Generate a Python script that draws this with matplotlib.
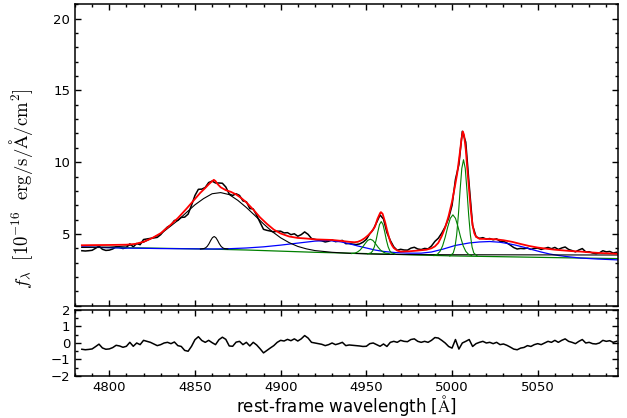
"""
Spectral decomposition of the Hbeta / [OIII] region with fit residuals.
"""
import matplotlib
matplotlib.use("Agg")
import matplotlib.pyplot as plt
import matplotlib.ticker as mticker
import numpy as np

plt.rcParams["mathtext.fontset"] = "cm"

# observed spectrum (2 A pixels) and residual of the fit
wave = np.arange(4784, 5097, 2)
flux = [
    3.83, 3.81, 3.83, 3.86, 4.00, 4.15, 3.93, 3.85, 3.87, 3.95,
    4.10, 4.06, 3.98, 4.05, 4.31, 4.10, 4.33, 4.25, 4.61, 4.65,
    4.69, 4.72, 4.76, 4.95, 5.25, 5.49, 5.61, 5.94, 5.94, 6.15,
    6.17, 6.38, 7.00, 7.68, 8.11, 8.12, 8.24, 8.58, 8.68, 8.55,
    8.55, 8.53, 8.27, 7.78, 7.68, 7.80, 7.68, 7.30, 7.24, 6.77,
    6.74, 6.30, 5.80, 5.32, 5.25, 5.20, 5.14, 5.19, 5.19, 5.07,
    5.09, 4.95, 5.01, 4.84, 4.95, 5.14, 4.97, 4.68, 4.62, 4.57,
    4.52, 4.44, 4.49, 4.58, 4.46, 4.50, 4.55, 4.32, 4.33, 4.29,
    4.26, 4.30, 4.42, 4.62, 5.01, 5.30, 5.80, 6.32, 6.04, 5.09,
    4.54, 4.10, 3.86, 3.93, 3.88, 3.87, 4.01, 4.07, 3.95, 3.91,
    3.99, 3.96, 4.16, 4.48, 4.70, 5.06, 5.50, 6.09, 6.99, 8.81,
    9.83, 12.15, 11.40, 8.41, 5.59, 4.81, 4.69, 4.74, 4.64, 4.68,
    4.59, 4.66, 4.48, 4.49, 4.37, 4.22, 4.05, 3.95, 3.99, 3.97,
    4.02, 3.92, 3.99, 4.01, 3.92, 3.99, 4.06, 3.97, 4.06, 3.92,
    4.02, 4.09, 3.92, 3.84, 3.75, 3.88, 3.98, 3.75, 3.76, 3.67,
    3.63, 3.68, 3.83, 3.75, 3.78, 3.67, 3.72,
]
resid = [
    -0.38, -0.41, -0.39, -0.36, -0.22, -0.07, -0.30, -0.38, -0.36, -0.28,
    -0.14, -0.18, -0.26, -0.20, 0.04, -0.20, 0.00, -0.10, 0.16, 0.10,
    0.04, -0.06, -0.16, -0.10, 0.00, 0.04, -0.04, 0.06, -0.16, -0.21,
    -0.45, -0.50, -0.20, 0.20, 0.38, 0.15, 0.04, 0.16, 0.02, -0.10,
    0.20, 0.35, 0.22, -0.18, -0.20, 0.05, 0.10, -0.10, 0.04, -0.18,
    0.04, -0.12, -0.35, -0.60, -0.45, -0.30, -0.16, 0.04, 0.16, 0.12,
    0.22, 0.14, 0.25, 0.12, 0.25, 0.45, 0.30, 0.04, 0.00, -0.04,
    -0.08, -0.16, -0.10, 0.00, -0.10, -0.04, 0.04, -0.16, -0.12, -0.14,
    -0.16, -0.18, -0.21, -0.20, -0.04, 0.00, -0.10, -0.20, -0.06, -0.21,
    0.04, 0.10, 0.04, 0.16, 0.10, 0.08, 0.21, 0.25, 0.10, 0.04,
    0.10, 0.04, 0.16, 0.33, 0.30, 0.16, 0.00, -0.21, -0.31, 0.21,
    -0.37, 0.00, 0.10, 0.21, -0.21, -0.04, 0.04, 0.10, 0.00, 0.04,
    -0.04, 0.04, -0.10, -0.06, -0.14, -0.25, -0.37, -0.41, -0.31, -0.27,
    -0.16, -0.21, -0.10, -0.04, -0.10, 0.00, 0.10, 0.04, 0.16, 0.04,
    0.16, 0.25, 0.10, 0.04, -0.04, 0.10, 0.21, 0.00, 0.04, -0.04,
    -0.06, 0.00, 0.16, 0.10, 0.14, 0.04, 0.10,
]

# total model
model_wave = [
    4784, 4790, 4800, 4810, 4815, 4820, 4825, 4830, 4835, 4840, 4845, 4849,
    4853, 4856, 4858, 4859.5, 4861, 4862, 4863, 4865, 4868, 4871, 4874, 4877,
    4880, 4884, 4888, 4892, 4896, 4900, 4905, 4910, 4915, 4920, 4925, 4930,
    4935, 4940, 4943, 4945, 4947, 4949, 4951, 4953, 4955, 4956.5, 4958,
    4958.5, 4959.5, 4961, 4962, 4963, 4964, 4965, 4966, 4968, 4970, 4975,
    4980, 4985, 4988, 4990, 4992, 4994, 4996, 4998, 5000, 5001.5, 5003,
    5004.5, 5005.5, 5006.3, 5007, 5008, 5009, 5010, 5011, 5012, 5013, 5014,
    5016, 5020, 5025, 5030, 5035, 5040, 5045, 5050, 5055, 5060, 5065, 5070,
    5075, 5080, 5085, 5090, 5097,
]
model_flux = [
    4.21, 4.22, 4.23, 4.25, 4.30, 4.45, 4.71, 5.05, 5.55, 6.10, 6.75, 7.30,
    7.85, 8.20, 8.45, 8.62, 8.77, 8.68, 8.50, 8.25, 8.05, 7.93, 7.75, 7.50,
    7.20, 6.70, 6.15, 5.70, 5.30, 5.03, 4.82, 4.72, 4.68, 4.62, 4.60, 4.58,
    4.52, 4.45, 4.42, 4.45, 4.55, 4.70, 4.90, 5.15, 5.50, 6.05, 6.45,
    6.52, 6.40, 5.80, 5.30, 4.85, 4.45, 4.20, 4.02, 3.84, 3.77, 3.79,
    3.84, 3.90, 4.00, 4.13, 4.38, 4.85, 5.45, 6.25, 7.25, 8.20, 9.20,
    10.60, 11.60, 12.14, 11.90, 10.90, 9.40, 8.00, 6.60, 5.60, 5.05, 4.80,
    4.66, 4.65, 4.63, 4.56, 4.45, 4.30, 4.16, 4.05, 3.97, 3.90, 3.85, 3.80,
    3.77, 3.72, 3.68, 3.65, 3.61,
]

# continuum (green) and continuum + Fe II (blue)
cont_wave = [4784, 4800, 4820, 4840, 4860, 4880, 4900, 4920, 4940, 4960,
             4980, 5000, 5020, 5040, 5060, 5080, 5097]
cont_flux = [4.07, 4.05, 4.02, 3.98, 3.94, 3.88, 3.80, 3.72, 3.66, 3.60,
             3.53, 3.47, 3.43, 3.39, 3.35, 3.31, 3.28]
feii_wave = [4784, 4790, 4800, 4810, 4820, 4830, 4840, 4850, 4860, 4870,
             4880, 4890, 4900, 4910, 4920, 4928, 4935, 4940, 4945, 4950,
             4955, 4960, 4967, 4975, 4982, 4988, 4995, 5002, 5010, 5016,
             5022, 5028, 5033, 5037, 5042, 5047, 5052, 5057, 5062, 5067,
             5075, 5085, 5097]
feii_flux = [4.10, 4.08, 4.04, 4.01, 4.00, 3.98, 3.97, 3.96, 3.95, 3.97,
             4.02, 4.10, 4.22, 4.36, 4.50, 4.54, 4.45, 4.32, 4.16, 4.02,
             3.88, 3.78, 3.70, 3.66, 3.66, 3.74, 3.95, 4.20, 4.37, 4.44,
             4.47, 4.42, 4.32, 4.22, 4.07, 3.90, 3.74, 3.60, 3.50, 3.42,
             3.32, 3.25, 3.19]

# broad and narrow Hbeta (black)
hb_broad_wave = [4784, 4800, 4810, 4820, 4830, 4840, 4845, 4850, 4855, 4860,
                 4865, 4870, 4875, 4880, 4885, 4890, 4895, 4900, 4905, 4910,
                 4915, 4920, 4930, 4940, 4950, 4960, 4980, 5000, 5050, 5097]
hb_broad_flux = [4.06, 4.08, 4.16, 4.42, 5.00, 5.94, 6.49, 7.03, 7.46, 7.80,
                 7.88, 7.74, 7.34, 6.84, 6.28, 5.70, 5.17, 4.73, 4.39, 4.13,
                 3.96, 3.84, 3.72, 3.65, 3.61, 3.58, 3.56, 3.55, 3.54, 3.53]
hb_nar_wave = [4853.2, 4855.2, 4856.2, 4857.2, 4858.2, 4859.2, 4860.2, 4861.2,
               4862.2, 4863.2, 4864.2, 4865.2, 4866.2, 4867.2, 4869.2]
hb_nar_flux = [3.95, 3.98, 4.03, 4.14, 4.32, 4.55, 4.74, 4.82,
               4.74, 4.55, 4.32, 4.14, 4.03, 3.98, 3.95]

# [OIII] cores and wings (green)
o3a_core_wave = [4950.7, 4952.7, 4953.7, 4954.7, 4955.7, 4956.7, 4957.7, 4958.7,
                 4959.7, 4960.7, 4961.7, 4962.7, 4963.7, 4964.7, 4966.7]
o3a_core_flux = [3.61, 3.68, 3.82, 4.11, 4.57, 5.15, 5.66, 5.86,
                 5.66, 5.15, 4.57, 4.11, 3.82, 3.68, 3.61]
o3a_wing_wave = [4941.3, 4943.3, 4944.8, 4946.3, 4947.8, 4949.3, 4950.8, 4952.3,
                 4953.8, 4955.3, 4956.8, 4958.3, 4959.8, 4961.3, 4963.3]
o3a_wing_flux = [3.63, 3.66, 3.74, 3.87, 4.08, 4.33, 4.55, 4.63,
                 4.55, 4.33, 4.08, 3.87, 3.74, 3.66, 3.63]
o3b_core_wave = [4998.7, 5000.7, 5001.7, 5002.7, 5003.7, 5004.7, 5005.7, 5006.7,
                 5007.7, 5008.7, 5009.7, 5010.7, 5011.7, 5012.7, 5014.7]
o3b_core_flux = [3.46, 3.67, 4.08, 4.93, 6.32, 8.05, 9.57, 10.17,
                 9.57, 8.05, 6.32, 4.93, 4.08, 3.67, 3.46]
o3b_wing_wave = [4989.5, 4991.5, 4993.0, 4994.5, 4996.0, 4997.5, 4999.0, 5000.5,
                 5002.0, 5003.5, 5005.0, 5006.5, 5008.0, 5009.5, 5011.5]
o3b_wing_flux = [3.49, 3.59, 3.79, 4.17, 4.77, 5.49, 6.09, 6.33,
                 6.09, 5.49, 4.77, 4.17, 3.79, 3.59, 3.49]


def style_axis(ax):
    ax.tick_params(which="both", direction="in", top=True, right=True,
                   labelsize=9.5, width=1.0)
    ax.tick_params(which="major", length=4.5)
    ax.tick_params(which="minor", length=2.2)
    for sp in ax.spines.values():
        sp.set_linewidth(1.1)


fig = plt.figure(figsize=(6.27, 4.18), dpi=100)
ax1 = fig.add_axes([0.1196, 0.2687, 0.8665, 0.7210])
ax2 = fig.add_axes([0.1196, 0.1005, 0.8665, 0.1579])

ax1.plot(wave, flux, color="black", lw=1.1)
ax1.plot(cont_wave, cont_flux, color="green", lw=0.9)
ax1.plot(feii_wave, feii_flux, color="blue", lw=0.9)
ax1.plot(hb_broad_wave, hb_broad_flux, color="black", lw=0.8)
ax1.plot(hb_nar_wave, hb_nar_flux, color="black", lw=0.8)
for w, f in [(o3a_wing_wave, o3a_wing_flux), (o3a_core_wave, o3a_core_flux),
             (o3b_wing_wave, o3b_wing_flux), (o3b_core_wave, o3b_core_flux)]:
    ax1.plot(w, f, color="green", lw=0.8)
ax1.plot(model_wave, model_flux, color="red", lw=1.3)

ax1.set_xlim(4780, 5097)
ax1.set_ylim(0, 21)
ax1.xaxis.set_major_locator(mticker.MultipleLocator(50))
ax1.xaxis.set_minor_locator(mticker.MultipleLocator(10))
ax1.set_yticks([0, 5, 10, 15, 20], ["", "5", "10", "15", "20"])
ax1.yaxis.set_minor_locator(mticker.MultipleLocator(1))
ax1.tick_params(labelbottom=False)
style_axis(ax1)

ax2.plot(wave, resid, color="black", lw=1.1)
ax2.set_xlim(4780, 5097)
ax2.set_ylim(-2, 2)
ax2.xaxis.set_major_locator(mticker.MultipleLocator(50))
ax2.xaxis.set_minor_locator(mticker.MultipleLocator(10))
ax2.yaxis.set_major_locator(mticker.MultipleLocator(1))
ax2.yaxis.set_minor_locator(mticker.MultipleLocator(0.5))
style_axis(ax2)

fig.text(0.5526, 0.014, "rest-frame wavelength [$\\mathrm{\\AA}$]",
         fontsize=12, ha="center", va="baseline")
fig.text(0.033, 0.548,
         r"$f_\lambda\ \ [10^{-16}\ \ \mathrm{erg/s/\AA/cm^2}]$",
         rotation=90, ha="center", va="center", fontsize=13.5)

fig.savefig("out.png", dpi=100)
